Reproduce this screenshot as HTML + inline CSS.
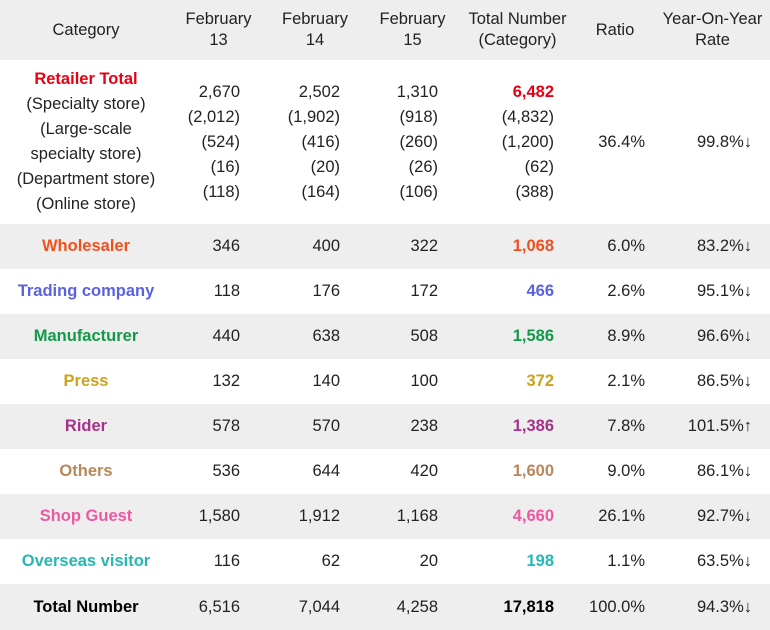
<!DOCTYPE html>
<html><head><meta charset="utf-8"><style>
body{margin:0;width:770px;height:630px;overflow:hidden;background:#fff;font-family:"Liberation Sans","DejaVu Sans",sans-serif;font-size:16.5px;color:#222}
.r{position:absolute;left:0;width:770px;display:flex;align-items:center}
.g{background:#eeeeee}
.c{box-sizing:border-box;flex:none}
.c0{width:172px;text-align:center}
.c1{width:93px;text-align:right;padding-right:25px}
.c2{width:100px;text-align:right;padding-right:25px}
.c3{width:95px;text-align:right;padding-right:22px}
.c4{width:115px;text-align:right;padding-right:21px}
.c5{width:80px;text-align:right;padding-right:10px}
.c6{width:115px;text-align:right;padding-right:18px}
.h .c{text-align:center;padding-right:0;line-height:21px}
.b{font-weight:bold}
.ml{line-height:25px}
</style></head><body>
<div class="r g h" style="top:0;height:60px">
<div class="c c0">Category</div>
<div class="c c1">February<br>13</div>
<div class="c c2">February<br>14</div>
<div class="c c3">February<br>15</div>
<div class="c c4">Total Number<br>(Category)</div>
<div class="c c5" style="padding-left:0">Ratio</div>
<div class="c c6">Year-On-Year<br>Rate</div>
</div>
<div class="r" style="top:60px;height:164px">
<div class="c c0 ml"><span class="b" style="color:#e60012">Retailer Total</span><br>(Specialty store)<br>(Large-scale<br>specialty store)<br>(Department store)<br>(Online store)</div>
<div class="c c1 ml">2,670<br>(2,012)<br>(524)<br>(16)<br>(118)</div>
<div class="c c2 ml">2,502<br>(1,902)<br>(416)<br>(20)<br>(164)</div>
<div class="c c3 ml">1,310<br>(918)<br>(260)<br>(26)<br>(106)</div>
<div class="c c4 ml"><span class="b" style="color:#e60012">6,482</span><br>(4,832)<br>(1,200)<br>(62)<br>(388)</div>
<div class="c c5">36.4%</div>
<div class="c c6">99.8%↓</div>
</div>
<div class="r g" style="top:224px;height:45px"><div class="c c0 b" style="color:#f0501e">Wholesaler</div><div class="c c1">346</div><div class="c c2">400</div><div class="c c3">322</div><div class="c c4 b" style="color:#f0501e">1,068</div><div class="c c5">6.0%</div><div class="c c6">83.2%↓</div></div>
<div class="r" style="top:269px;height:45px"><div class="c c0 b" style="color:#5a62e0">Trading company</div><div class="c c1">118</div><div class="c c2">176</div><div class="c c3">172</div><div class="c c4 b" style="color:#5a62e0">466</div><div class="c c5">2.6%</div><div class="c c6">95.1%↓</div></div>
<div class="r g" style="top:314px;height:45px"><div class="c c0 b" style="color:#13994a">Manufacturer</div><div class="c c1">440</div><div class="c c2">638</div><div class="c c3">508</div><div class="c c4 b" style="color:#13994a">1,586</div><div class="c c5">8.9%</div><div class="c c6">96.6%↓</div></div>
<div class="r" style="top:359px;height:45px"><div class="c c0 b" style="color:#cba21c">Press</div><div class="c c1">132</div><div class="c c2">140</div><div class="c c3">100</div><div class="c c4 b" style="color:#cba21c">372</div><div class="c c5">2.1%</div><div class="c c6">86.5%↓</div></div>
<div class="r g" style="top:404px;height:45px"><div class="c c0 b" style="color:#a3338a">Rider</div><div class="c c1">578</div><div class="c c2">570</div><div class="c c3">238</div><div class="c c4 b" style="color:#a3338a">1,386</div><div class="c c5">7.8%</div><div class="c c6">101.5%↑</div></div>
<div class="r" style="top:449px;height:45px"><div class="c c0 b" style="color:#b8875a">Others</div><div class="c c1">536</div><div class="c c2">644</div><div class="c c3">420</div><div class="c c4 b" style="color:#b8875a">1,600</div><div class="c c5">9.0%</div><div class="c c6">86.1%↓</div></div>
<div class="r g" style="top:494px;height:45px"><div class="c c0 b" style="color:#ee58a2">Shop Guest</div><div class="c c1">1,580</div><div class="c c2">1,912</div><div class="c c3">1,168</div><div class="c c4 b" style="color:#ee58a2">4,660</div><div class="c c5">26.1%</div><div class="c c6">92.7%↓</div></div>
<div class="r" style="top:539px;height:45px"><div class="c c0 b" style="color:#26b7b2">Overseas visitor</div><div class="c c1">116</div><div class="c c2">62</div><div class="c c3">20</div><div class="c c4 b" style="color:#26b7b2">198</div><div class="c c5">1.1%</div><div class="c c6">63.5%↓</div></div>
<div class="r g" style="top:584px;height:46px"><div class="c c0 b" style="color:#000">Total Number</div><div class="c c1">6,516</div><div class="c c2">7,044</div><div class="c c3">4,258</div><div class="c c4 b" style="color:#000">17,818</div><div class="c c5">100.0%</div><div class="c c6">94.3%↓</div></div>
</body></html>
